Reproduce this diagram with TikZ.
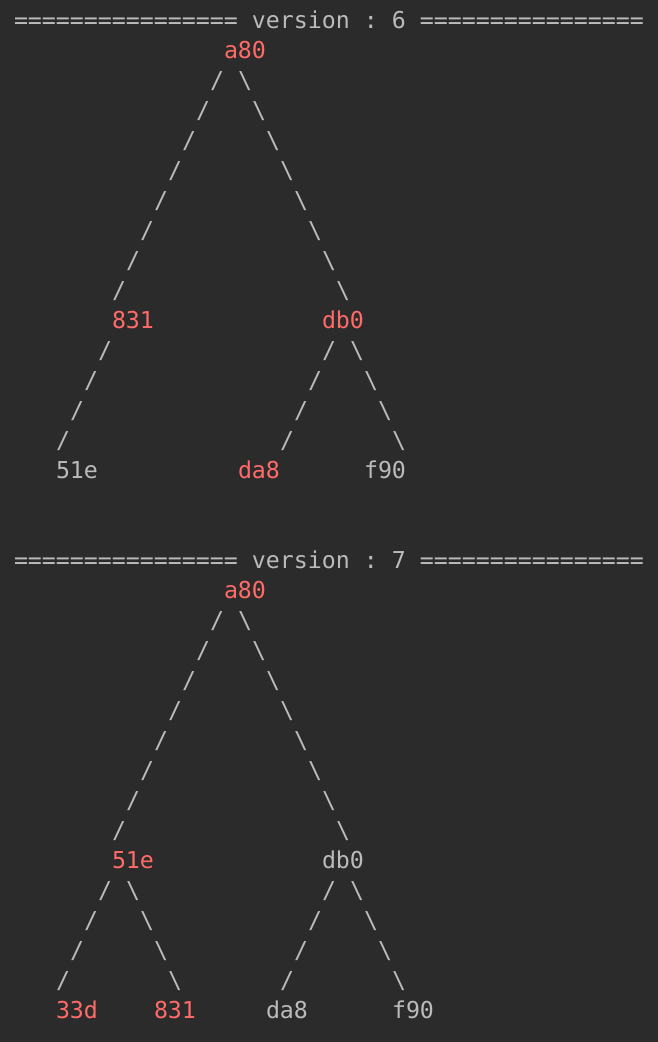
\documentclass[tikz,border=0pt]{standalone}
\usepackage{fontspec}
\setmonofont{DejaVu Sans Mono}
\definecolor{bgdark}{HTML}{2B2B2B}
\definecolor{txtgray}{HTML}{BBBBBB}
\definecolor{txtred}{HTML}{FF6B68}
\tikzset{
  termtext/.style={inner sep=0pt, outer sep=0pt, anchor=base west,
    font=\ttfamily\frenchspacing\fontsize{23.25}{28}\selectfont},
  graylabel/.style={termtext, text=txtgray},
  hotlabel/.style={termtext, text=txtred},
  connchar/.style={termtext, text=txtgray},
}
\begin{document}
\begin{tikzpicture}[x=1pt, y=-1pt]
\fill[bgdark] (0,0) rectangle (658,1042);
\useasboundingbox (0,0) rectangle (658,1042);

% ---------------- version 6 ----------------
\node[graylabel] (hdrsix) at ({14+14*0},{28.5+30*0}) {================ version : 6 ================};
\node[hotlabel] (sixaeighty) at ({14+14*15},{28.5+30*1}) {a80};
\node[hotlabel] (sixeightthreeone) at ({14+14*7},{28.5+30*10}) {831};
\node[hotlabel] (sixdbzero) at ({14+14*22},{28.5+30*10}) {db0};
\node[graylabel] (sixfiveonee) at ({14+14*3},{28.5+30*15}) {51e};
\node[hotlabel] (sixdaeight) at ({14+14*16},{28.5+30*15}) {da8};
\node[graylabel] (sixfninety) at ({14+14*25},{28.5+30*15}) {f90};
% a80 -> 831
\foreach \i in {0,...,7} \node[connchar] at ({14+14*(14-\i)},{28.5+30*(2+\i)}) {/};
% a80 -> db0
\foreach \i in {0,...,7} \node[connchar] at ({14+14*(16+\i)},{28.5+30*(2+\i)}) {\textbackslash};
% 831 -> 51e
\foreach \i in {0,...,3} \node[connchar] at ({14+14*(6-\i)},{28.5+30*(11+\i)}) {/};
% db0 -> da8
\foreach \i in {0,...,3} \node[connchar] at ({14+14*(22-\i)},{28.5+30*(11+\i)}) {/};
% db0 -> f90
\foreach \i in {0,...,3} \node[connchar] at ({14+14*(24+\i)},{28.5+30*(11+\i)}) {\textbackslash};

% ---------------- version 7 ----------------
\node[graylabel] (hdrseven) at ({14+14*0},{28.5+30*18}) {================ version : 7 ================};
\node[hotlabel] (sevenaeighty) at ({14+14*15},{28.5+30*19}) {a80};
\node[hotlabel] (sevenfiveonee) at ({14+14*7},{28.5+30*28}) {51e};
\node[graylabel] (sevendbzero) at ({14+14*22},{28.5+30*28}) {db0};
\node[hotlabel] (seventhreethreed) at ({14+14*3},{28.5+30*33}) {33d};
\node[hotlabel] (seveneightthreeone) at ({14+14*10},{28.5+30*33}) {831};
\node[graylabel] (sevendaeight) at ({14+14*18},{28.5+30*33}) {da8};
\node[graylabel] (sevenfninety) at ({14+14*27},{28.5+30*33}) {f90};
% a80 -> 51e
\foreach \i in {0,...,7} \node[connchar] at ({14+14*(14-\i)},{28.5+30*(20+\i)}) {/};
% a80 -> db0
\foreach \i in {0,...,7} \node[connchar] at ({14+14*(16+\i)},{28.5+30*(20+\i)}) {\textbackslash};
% 51e -> 33d
\foreach \i in {0,...,3} \node[connchar] at ({14+14*(6-\i)},{28.5+30*(29+\i)}) {/};
% 51e -> 831
\foreach \i in {0,...,3} \node[connchar] at ({14+14*(8+\i)},{28.5+30*(29+\i)}) {\textbackslash};
% db0 -> da8
\foreach \i in {0,...,3} \node[connchar] at ({14+14*(22-\i)},{28.5+30*(29+\i)}) {/};
% db0 -> f90
\foreach \i in {0,...,3} \node[connchar] at ({14+14*(24+\i)},{28.5+30*(29+\i)}) {\textbackslash};
\end{tikzpicture}
\end{document}
